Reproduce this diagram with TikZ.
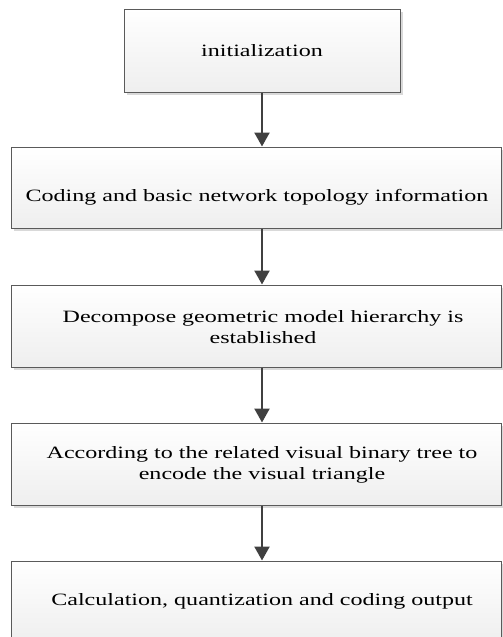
\documentclass[tikz,border=0pt]{standalone}
\usepackage{fontspec}
\setmainfont{Liberation Serif}[FakeStretch=1.39]
\usetikzlibrary{arrows.meta,shadows}
\definecolor{edge}{RGB}{90,90,90}
\definecolor{flow}{RGB}{64,64,64}
\begin{document}
\begin{tikzpicture}[x=1pt,y=-1pt,
  stepbox/.style={draw=edge, line width=1pt, rectangle,
    top color=white, bottom color=gray!13,
    drop shadow={shadow xshift=3pt, shadow yshift=-3pt, fill=gray!30, opacity=1}},
  steptext/.style={font=\fontsize{17.3}{21}\selectfont, align=center, text=black, inner sep=0pt},
  flowarrow/.style={draw=flow, line width=2.3pt,
    -{Triangle[width=15pt,length=14pt]}}]
  \useasboundingbox (0,0) rectangle (503,637);
  \clip (0,0) rectangle (503,637);

  % process boxes
  \node[stepbox, minimum width=276pt, minimum height=83pt] (b1) at (262,50.5) {};
  \node[stepbox, minimum width=490pt, minimum height=81pt] (b2) at (256,187.5) {};
  \node[stepbox, minimum width=490pt, minimum height=82pt] (b3) at (256,326) {};
  \node[stepbox, minimum width=490pt, minimum height=82pt] (b4) at (256,464) {};
  \node[stepbox, minimum width=490pt, minimum height=82pt] (b5) at (256,602) {};

  % box captions
  \node[steptext] (t1) at (262,51) {initialization};
  \node[steptext] (t2) at (257,197) {Coding and basic network topology information};
  \node[steptext] (t3) at (263,327) {Decompose geometric model hierarchy is\\established};
  \node[steptext] (t4) at (262,465) {According to the related visual binary tree to\\encode the visual triangle};
  \node[steptext] (t5) at (262,601) {Calculation, quantization and coding output};

  % flow between steps
  \draw[flowarrow] (b1.south) -- (b1.south |- b2.north);
  \draw[flowarrow] (b2.south -| b1.south) -- (b3.north -| b1.south);
  \draw[flowarrow] (b3.south -| b1.south) -- (b4.north -| b1.south);
  \draw[flowarrow] (b4.south -| b1.south) -- (b5.north -| b1.south);
\end{tikzpicture}
\end{document}
